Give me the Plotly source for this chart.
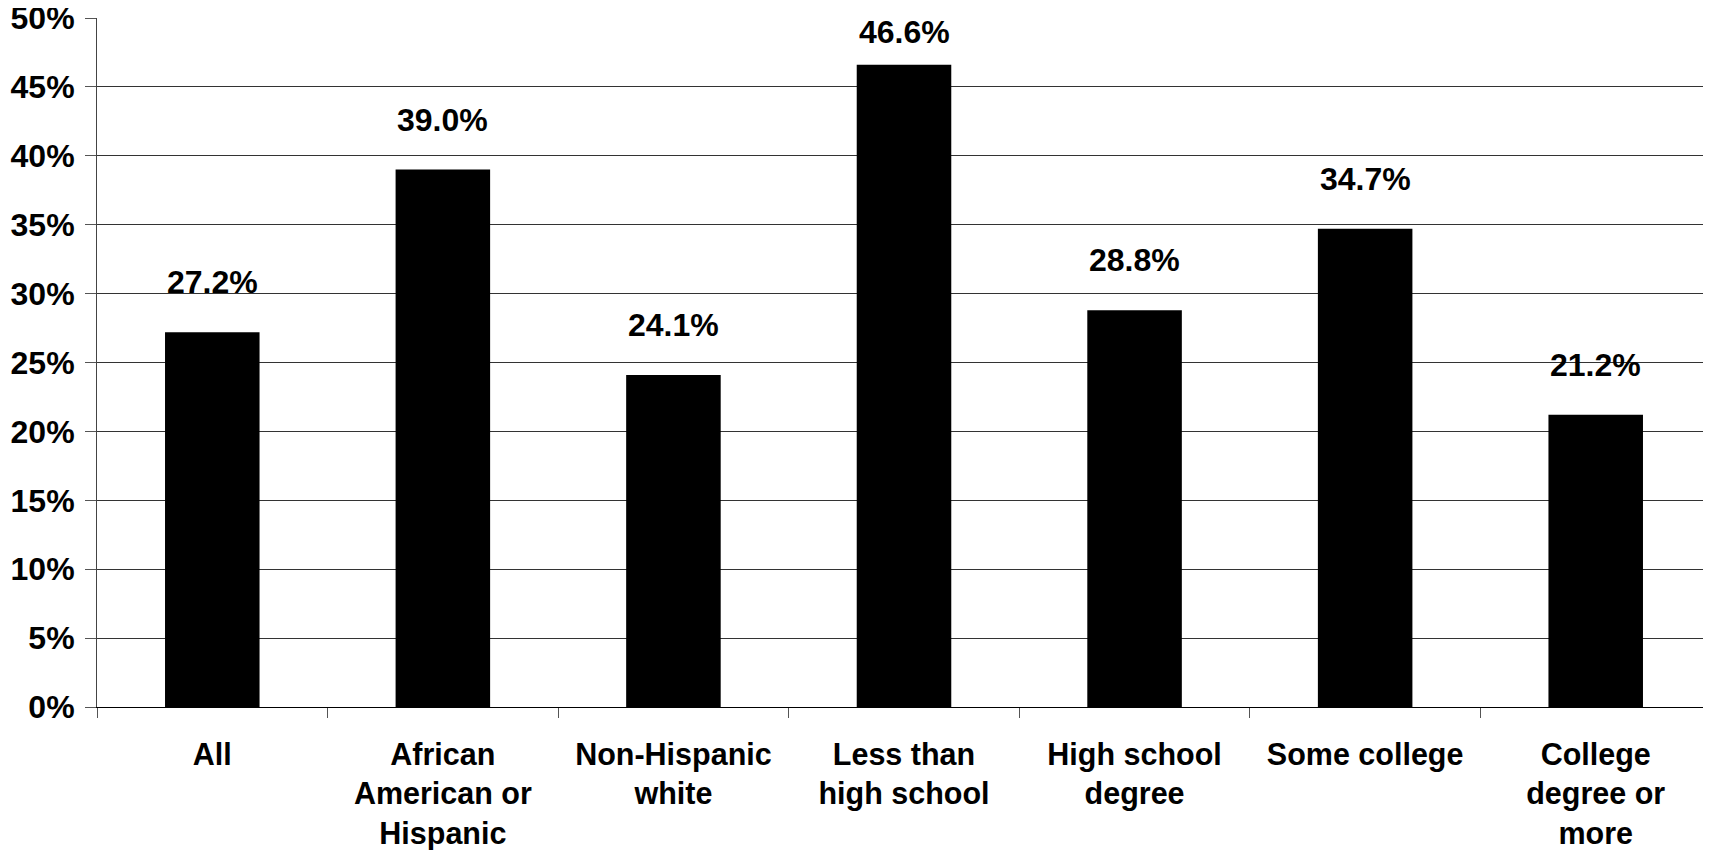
import plotly.graph_objects as go

categories = ["All", "African<br>American or<br>Hispanic", "Non-Hispanic<br>white",
              "Less than<br>high school", "High school<br>degree", "Some college",
              "College<br>degree or<br>more"]
values = [27.2, 39.0, 24.1, 46.6, 28.8, 34.7, 21.2]
labels = ["27.2%", "39.0%", "24.1%", "46.6%", "28.8%", "34.7%", "21.2%"]

FONT = "Liberation Sans, Arial, sans-serif"
FS = 32
YMAX = 50
PX_PER_UNIT = 13.76  # approx pixels per percentage point in the plot area

fig = go.Figure()
fig.add_trace(go.Bar(x=categories, y=values, marker=dict(color="black", line=dict(width=0)),
                     hoverinfo="skip"))

for c, v, t in zip(categories, values, labels):
    shift = min(30, round((YMAX - v) * PX_PER_UNIT) - 34)
    fig.add_annotation(x=c, y=v, text="<b>%s</b>" % t, showarrow=False, yanchor="bottom",
                       yshift=shift, font=dict(family=FONT, size=FS, color="black"))

# page body has an 8px default margin, so compensate
fig.update_layout(
    width=1703, height=842,
    margin=dict(l=89, r=0, t=10, b=143, autoexpand=False),
    paper_bgcolor="white", plot_bgcolor="white",
    bargap=0.59, showlegend=False,
    font=dict(family=FONT, size=FS, color="black"),
)
fig.update_xaxes(
    type="category", tickson="boundaries", ticks="outside", ticklen=10, tickcolor="#555",
    showline=True, linecolor="black", linewidth=1, showgrid=False, automargin=False,
    ticklabelstandoff=20, ticklabeloverflow="allow",
    tickfont=dict(family=FONT, size=30.5, color="black", weight="bold"),
)
fig.update_yaxes(
    range=[0, YMAX], dtick=5, ticksuffix="%", ticks="outside", ticklen=11, tickcolor="#555",
    showline=True, linecolor="#444", linewidth=1, showgrid=True, gridcolor="#333", gridwidth=1,
    zeroline=False, automargin=False, ticklabelstandoff=4, ticklabeloverflow="allow",
    tickfont=dict(family=FONT, size=FS, color="black", weight="bold"),
)

fig.write_html("out.html")
